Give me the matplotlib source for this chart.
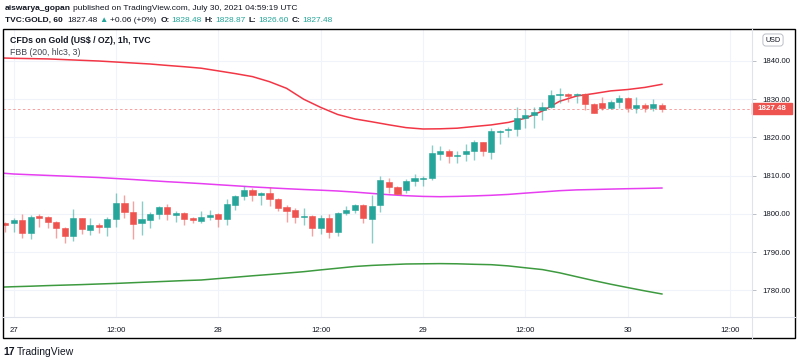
import matplotlib
matplotlib.use("Agg")
import matplotlib.pyplot as plt
import matplotlib.transforms as mtransforms
from matplotlib.patches import Rectangle
from matplotlib.lines import Line2D

# ---------------- data ----------------
bar_index = list(range(-1, 77))
opens = [1797.5, 1797.5, 1798.5, 1794.9, 1799.5, 1799.3, 1797.9, 1796.3, 1794.1, 1798.9,
         1795.8, 1797.0, 1796.6, 1798.6, 1802.9, 1800.5, 1797.5, 1798.5, 1800.0, 1801.7,
         1799.8, 1800.2, 1798.8, 1798.2, 1799.3, 1799.9, 1798.7, 1802.2, 1804.8, 1806.2,
         1804.9, 1805.4, 1804.0, 1801.9, 1801.0, 1799.3, 1799.5, 1796.4, 1798.9, 1795.4,
         1800.3, 1800.9, 1802.3, 1798.7, 1802.2, 1808.4, 1806.9, 1806.2, 1808.7, 1809.2,
         1809.5, 1815.6, 1816.4, 1815.1, 1815.6, 1816.3, 1818.7, 1816.1, 1821.5, 1821.8,
         1822.1, 1825.1, 1825.8, 1827.2, 1828.0, 1831.1, 1831.2, 1831.1, 1831.2, 1828.8,
         1828.9, 1827.6, 1829.3, 1830.2, 1827.6, 1828.4, 1827.7, 1828.48]
highs = [1798.0, 1798.9, 1799.9, 1799.7, 1799.9, 1799.5, 1798.2, 1796.7, 1801.3, 1799.0,
         1798.9, 1797.7, 1799.3, 1805.4, 1804.9, 1803.4, 1803.4, 1800.6, 1802.1, 1802.5,
         1800.8, 1800.6, 1799.2, 1800.8, 1800.9, 1800.2, 1803.8, 1804.9, 1807.4, 1806.7,
         1805.8, 1806.9, 1804.2, 1802.3, 1801.6, 1801.5, 1799.7, 1799.7, 1799.9, 1800.4,
         1802.1, 1802.6, 1802.6, 1804.9, 1810.0, 1809.3, 1807.3, 1809.0, 1810.4, 1810.0,
         1818.0, 1817.6, 1816.9, 1816.3, 1818.3, 1819.3, 1818.9, 1822.3, 1821.9, 1822.8,
         1828.0, 1827.4, 1828.0, 1829.1, 1832.4, 1833.0, 1831.5, 1831.5, 1831.5, 1829.0,
         1830.4, 1829.7, 1831.1, 1830.4, 1830.6, 1828.9, 1830.0, 1828.87]
lows = [1795.4, 1795.2, 1793.8, 1793.5, 1796.7, 1796.2, 1793.6, 1792.5, 1792.9, 1794.7,
        1794.5, 1794.9, 1794.1, 1796.7, 1799.0, 1793.5, 1794.5, 1796.4, 1798.6, 1798.4,
        1798.0, 1797.1, 1797.5, 1797.5, 1798.3, 1796.7, 1797.1, 1801.0, 1803.5, 1803.4,
        1802.3, 1802.1, 1800.8, 1798.0, 1797.5, 1797.1, 1794.2, 1794.8, 1793.8, 1794.2,
        1799.7, 1800.3, 1797.5, 1792.3, 1800.6, 1805.4, 1805.2, 1805.5, 1807.3, 1807.3,
        1808.9, 1814.1, 1813.2, 1813.2, 1813.9, 1814.1, 1815.1, 1814.3, 1818.2, 1820.2,
        1820.4, 1822.3, 1822.3, 1824.5, 1827.6, 1828.9, 1829.3, 1828.9, 1827.1, 1826.4,
        1827.1, 1827.4, 1827.7, 1826.7, 1826.3, 1826.7, 1826.9, 1826.60]
closes = [1797.2, 1798.5, 1794.9, 1799.2, 1799.0, 1797.9, 1796.3, 1794.3, 1798.9, 1796.1,
          1797.1, 1796.7, 1798.7, 1802.9, 1800.4, 1797.3, 1798.7, 1800.0, 1801.7, 1800.0,
          1800.2, 1798.6, 1798.5, 1799.3, 1799.7, 1798.7, 1802.5, 1804.7, 1806.2, 1805.0,
          1805.4, 1804.0, 1801.6, 1800.8, 1799.3, 1799.5, 1796.4, 1799.0, 1795.2, 1800.2,
          1801.0, 1802.3, 1798.8, 1802.1, 1808.9, 1806.9, 1805.2, 1808.6, 1809.4, 1809.5,
          1815.8, 1816.3, 1815.1, 1815.4, 1816.4, 1818.7, 1816.3, 1821.7, 1821.7, 1822.1,
          1825.1, 1825.8, 1826.7, 1827.9, 1831.0, 1831.4, 1830.9, 1831.3, 1828.8, 1826.4,
          1827.7, 1829.3, 1830.2, 1827.6, 1828.4, 1827.6, 1828.6, 1827.48]

band_index = list(range(-2, 77, 2))
fbb_upper = [1840.76, 1840.63, 1840.55, 1840.47, 1840.29, 1840.10, 1839.92, 1839.66, 1839.40, 1839.14,
             1838.77, 1838.43, 1838.04, 1837.34, 1836.63, 1835.85, 1834.52, 1832.79, 1829.95, 1827.81,
             1825.95, 1824.80, 1824.05, 1823.26, 1822.53, 1822.17, 1822.22, 1822.38, 1822.82, 1823.24,
             1823.89, 1824.99, 1826.87, 1829.40, 1830.78, 1831.41, 1832.12, 1832.48, 1833.03, 1833.84]
fbb_basis = [1810.76, 1810.42, 1810.23, 1810.05, 1809.87, 1809.69, 1809.50, 1809.24, 1808.98, 1808.69,
             1808.41, 1808.17, 1807.91, 1807.62, 1807.34, 1807.05, 1806.81, 1806.58, 1806.37, 1806.19,
             1805.98, 1805.69, 1805.35, 1805.01, 1804.75, 1804.57, 1804.49, 1804.57, 1804.70, 1804.86,
             1805.09, 1805.43, 1805.74, 1806.06, 1806.27, 1806.37, 1806.48, 1806.58, 1806.66, 1806.76]
fbb_lower = [1780.84, 1780.99, 1781.12, 1781.28, 1781.41, 1781.54, 1781.70, 1781.85, 1782.04, 1782.22,
             1782.40, 1782.59, 1782.74, 1783.11, 1783.47, 1783.84, 1784.18, 1784.54, 1784.91, 1785.38,
             1785.82, 1786.27, 1786.55, 1786.74, 1786.92, 1786.97, 1787.02, 1786.97, 1786.84, 1786.74,
             1786.42, 1785.93, 1785.46, 1784.62, 1783.60, 1782.59, 1781.64, 1780.76, 1779.90, 1779.09]

time_tick_index = [0, 12, 24, 36, 48, 60, 72, 84]
time_tick_labels = ["27", "12:00", "28", "12:00", "29", "12:00", "30", "12:00"]
price_ticks = [1780, 1790, 1800, 1810, 1820, 1830, 1840]
last_price = 1827.48

# ---------------- style ----------------
UP = "#26a69a"
DOWN = "#ef5350"
TXT = "#131722"
GRID = "#f0f3fa"
FONT = "Liberation Sans"
plt.rcParams["font.family"] = [FONT, "DejaVu Sans"]

W, H = 800, 362
fig = plt.figure(figsize=(W / 100, H / 100), dpi=100)
fig.patch.set_facecolor("white")

def fx(px):
    return px / W

def fy(py):
    return 1 - py / H

# main chart area: x 3..752, y 29..317
ax = fig.add_axes([fx(3), fy(317), fx(752) - fx(3), fy(29) - fy(317)])
ax.set_xlim(-1.24, 86.56)
ax.set_ylim(1773.08, 1848.28)
for s in ax.spines.values():
    s.set_visible(False)

ax.set_xticks(time_tick_index)
ax.set_xticklabels([])
ax.tick_params(axis="x", length=0)
ax.yaxis.tick_right()
ax.set_yticks(price_ticks)
ax.set_yticklabels([f"{p:.2f}" for p in price_ticks], fontsize=5.6, color=TXT)
ax.tick_params(axis="y", length=3, width=0.6, color="#b2b5be", pad=4.5)
ax.grid(True, color=GRID, lw=0.8)
ax.set_axisbelow(True)

# bands
ax.plot(band_index, fbb_upper, color="#f23645", lw=1.1, zorder=2)
ax.plot(band_index, fbb_basis, color="#e63ef0", lw=1.1, zorder=2)
ax.plot(band_index, fbb_lower, color="#3d9a3f", lw=1.1, zorder=2)

# candles
for i, o, h, l, c in zip(bar_index, opens, highs, lows, closes):
    col = UP if c >= o else DOWN
    ax.vlines(i, l, h, color=col, alpha=0.55, lw=1.0, zorder=3)
    lo, hi = min(o, c), max(o, c)
    ax.bar(i, max(hi - lo, 0.25), bottom=lo, width=0.72, color=col,
           edgecolor=col, lw=0.4, zorder=4)

# last price dashed line
ax.axhline(last_price, color=DOWN, alpha=0.55, lw=0.7, ls=(0, (2.5, 2.5)), zorder=1)

# time labels
tr = mtransforms.blended_transform_factory(ax.transData, ax.transAxes)
for i, lab in zip(time_tick_index, time_tick_labels):
    ax.text(i, -13 / 288, lab, transform=tr, ha="center", va="center",
            fontsize=5.6, color=TXT, clip_on=False)

# price tag
trp = mtransforms.blended_transform_factory(ax.transAxes, ax.transData)
ax.add_patch(Rectangle((1.0, last_price - 1.4), 40 / 749, 2.8, transform=trp,
                       color=DOWN, clip_on=False, zorder=5))
ax.text(1.0 + 20 / 749, last_price, f"{last_price:.2f}", transform=trp, ha="center",
        va="center", fontsize=5.8, color="white", fontweight="bold", clip_on=False, zorder=6)

# frame and separators
fig.add_artist(Rectangle((fx(3), fy(338)), fx(795) - fx(3), fy(29) - fy(338),
                         transform=fig.transFigure, fill=False, ec="#000000", lw=1.0))
fig.add_artist(Line2D([fx(752), fx(752)], [fy(338), fy(29)], transform=fig.transFigure,
                      color="#e0e3eb", lw=0.8))
fig.add_artist(Line2D([fx(3), fx(795)], [fy(317), fy(317)], transform=fig.transFigure,
                      color="#e0e3eb", lw=0.8))

# USD box
fig.text(fx(773), fy(40), "USD", ha="center", va="center", fontsize=5.2, color=TXT,
         bbox=dict(boxstyle="round,pad=0.35,rounding_size=0.4", fc="white", ec="#b2b5be", lw=0.6))

# header: pieces chained left to right using measured widths
renderer = fig.canvas.get_renderer()

def chain(y_px, x_px, parts, size):
    x = x_px
    for text, weight, color, gap in parts:
        t = fig.text(fx(x), fy(y_px), text, fontsize=size, fontweight=weight,
                     color=color, va="center", ha="left")
        bb = t.get_window_extent(renderer=renderer)
        x += bb.width + gap

hs = 6.0
chain(8, 4.7, [("aiswarya_gopan", "bold", TXT, 2.5),
               ("published on TradingView.com, July 30, 2021 04:59:19 UTC", "normal", TXT, 0)], hs)
chain(20, 4.7, [("TVC:GOLD, 60", "bold", TXT, 4.5),
                ("1827.48", "normal", TXT, 2.5),
                ("\u25b2", "normal", UP, 2.5),
                ("+0.06 (+0%)", "normal", TXT, 3.5),
                ("O:", "bold", TXT, 1.5), ("1828.48", "normal", UP, 3.5),
                ("H:", "bold", TXT, 1.5), ("1828.87", "normal", UP, 3.5),
                ("L:", "bold", TXT, 1.5), ("1826.60", "normal", UP, 3.5),
                ("C:", "bold", TXT, 1.5), ("1827.48", "normal", UP, 0)], hs)

# legend inside chart
fig.text(fx(9.5), fy(40.5), "CFDs on Gold (US$ / OZ), 1h, TVC", fontsize=6.3,
         fontweight="bold", color=TXT, va="center")
fig.text(fx(9.5), fy(52.5), "FBB (200, hlc3, 3)", fontsize=6.3, color="#434651", va="center")

# logo
fig.text(fx(3), fy(352), "17", fontsize=7.5, fontweight="heavy", color=TXT, va="center")
fig.text(fx(17), fy(352), "TradingView", fontsize=7.5, color=TXT, va="center")

fig.savefig("out.png", dpi=100, facecolor="white")
